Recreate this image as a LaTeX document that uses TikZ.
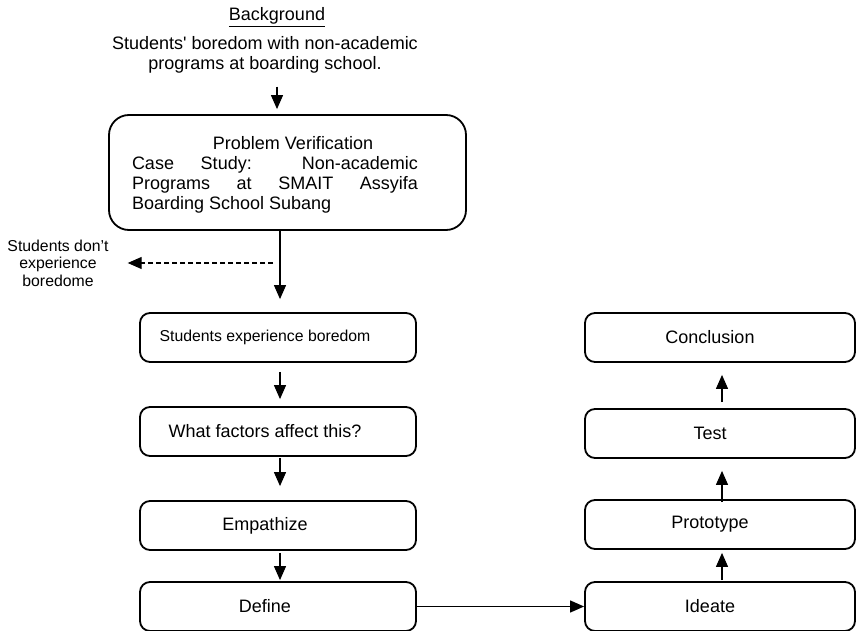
\documentclass[tikz,border=0pt]{standalone}
\usepackage{fontspec}
\setmainfont{Liberation Sans}
\usetikzlibrary{arrows.meta, calc}

\begin{document}
\begin{tikzpicture}[x=1pt, y=-1pt,
    txt/.style={inner sep=1pt, font=\fontsize{18}{20}\selectfont},
    box/.style={draw, line width=1.8pt, rounded corners=10pt, minimum width=276pt,
        minimum height=49pt, inner sep=0pt, font=\fontsize{18}{20}\selectfont},
    rbox/.style={box, minimum width=270pt},
    arr/.style={-{Triangle[length=14pt, width=12pt]}, line width=1.2pt}]

\useasboundingbox (0,0) rectangle (857,631);

% === Background ===
\node[txt] (bgtitle) at (277,17) {\underline{Background}};
\node[txt, align=center] (bgtxt) at (265,55) {Students\textquotesingle{} boredom with non-academic\\programs at boarding school.};

% === Problem verification ===
\node[draw, line width=1.8pt, rounded corners=20pt, minimum width=357pt, minimum height=115pt] (verif) at (287.5,172.5) {};
\node[txt] (vtitle) at (293,143) {Problem Verification};
\node[txt, text width=286pt, align=justify] (vbody) at (275,185) {Case Study: Non-academic\linebreak Programs at SMAIT Assyifa\linebreak Boarding School Subang};

% Students don't experience boredom
\node[txt, font=\fontsize{15.8}{17.5}\selectfont, align=center] (nobore) at (58,263) {Students don’t\\experience\\boredome};

% === Left column ===
\coordinate (spine) at (280,0);
\node[box, font=\fontsize{15.8}{18}\selectfont] (seb) at (278,337.5) {Students experience boredom\hspace*{26pt}};
\node[box] (factors) at (278,431.5) {What factors affect this?\hspace*{26pt}};
\node[box] (empath) at (278,525.5) {Empathize\hspace*{26pt}};
\node[box] (define) at (278,606.5) {Define\hspace*{26pt}};

% === Right column ===
\coordinate (rspine) at (722,0);
\node[rbox] (ideate) at (720,606.5) {Ideate\hspace*{20pt}};
\node[rbox] (proto) at (720,524.5) {Prototype\hspace*{20pt}};
\node[rbox] (test) at (720,433.5) {Test\hspace*{20pt}};
\node[rbox] (concl) at (720,337.5) {Conclusion\hspace*{20pt}};

% === Arrows ===
\draw[arr, shorten <=12pt, shorten >=5pt] (bgtitle |- bgtxt.south) -- (bgtitle |- verif.north);
\draw[arr, shorten >=13pt] (spine |- verif.south) -- (spine |- seb.north);
\draw[arr, dashed, dash pattern=on 5pt off 3pt, shorten <=7pt, shorten >=18pt] (spine |- nobore.east) -- (nobore.east);
\draw[arr, shorten <=9pt, shorten >=7pt] (spine |- seb.south) -- (spine |- factors.north);
\draw[arr, shorten <=1pt, shorten >=14pt] (spine |- factors.south) -- (spine |- empath.north);
\draw[arr, shorten <=2pt, shorten >=1pt] (spine |- empath.south) -- (spine |- define.north);
\draw[arr] (define.east) -- (ideate.west);
\draw[arr, shorten <=1pt, shorten >=3pt] (rspine |- ideate.north) -- (rspine |- proto.south);
\draw[arr, shorten <=-3pt, shorten >=12pt] (rspine |- proto.north) -- (rspine |- test.south);
\draw[arr, shorten <=6pt, shorten >=12pt] (rspine |- test.north) -- (rspine |- concl.south);

\end{tikzpicture}
\end{document}
